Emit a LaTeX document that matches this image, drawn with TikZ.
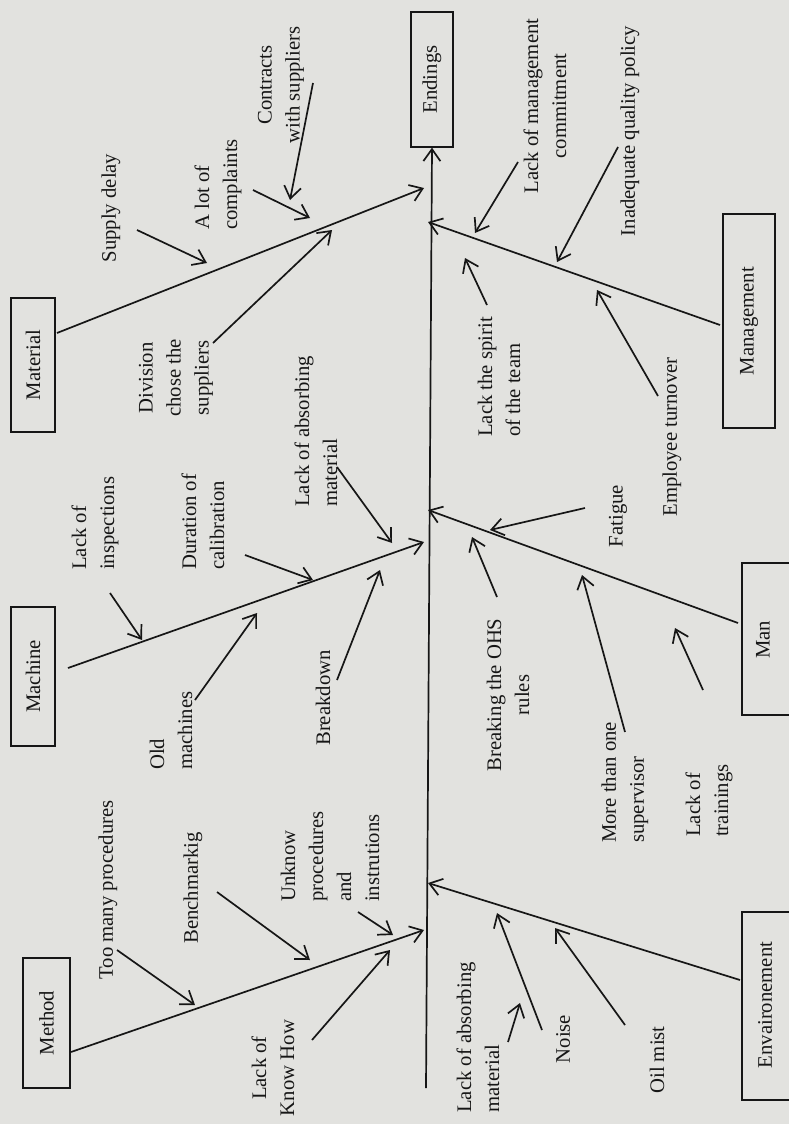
\documentclass[tikz,border=0pt]{standalone}
\usepackage{fontspec}
\setmainfont{Liberation Serif}
\usetikzlibrary{arrows.meta}
\definecolor{paper}{RGB}{226,226,223}
\definecolor{ink}{RGB}{22,22,22}
\begin{document}
\begin{tikzpicture}[x=1pt,y=-1pt,
  lbl/.style={rotate=90, font=\fontsize{20.7}{28}\selectfont, inner sep=0pt, text=ink},
  boxnode/.style={draw=ink, line width=1.3pt, inner sep=0pt},
  arrowline/.style={draw=ink, line width=1.7pt, -{Straight Barb[length=12pt,width=17pt,line width=1.7pt]}},
  plainline/.style={draw=ink, line width=1.7pt}]
\fill[paper] (0,0) rectangle (789,1124);
\useasboundingbox (0,0) rectangle (789,1124);

% boxes
\node[boxnode, minimum width=42pt, minimum height=135pt] (endbox) at (432,79.5) {};
\node[lbl] (endlbl) at (endbox) {Endings};
\node[boxnode, minimum width=44pt, minimum height=134pt] (matbox) at (33,365) {};
\node[lbl] (matlbl) at (matbox) {Material};
\node[boxnode, minimum width=44pt, minimum height=139pt] (macbox) at (33,676.5) {};
\node[lbl] (maclbl) at (macbox) {Machine};
\node[boxnode, minimum width=47pt, minimum height=130pt] (metbox) at (46.5,1023) {};
\node[lbl] (metlbl) at (metbox) {Method};
\node[boxnode, minimum width=52pt, minimum height=214pt] (mgtbox) at (749,321) {};
\node[lbl] (mgtlbl) at (mgtbox) {Management};
\node[boxnode, minimum width=52pt, minimum height=152pt] (manbox) at (768,639) {};
\node[lbl] (manlbl) at (763,640) {Man};
\node[boxnode, minimum width=52pt, minimum height=188pt] (envbox) at (768,1006) {};
\node[lbl] (envlbl) at (765,1005) {Envaironement};

% spine
\coordinate (spinebot) at (426,1088);
\draw[arrowline] (spinebot) -- (endbox.south);

% main branches
\coordinate (matS) at (57,333);   \coordinate (matE) at (424,188);
\coordinate (macS) at (68,668);   \coordinate (macE) at (424,542);
\coordinate (metS) at (71,1052);  \coordinate (metE) at (424,930);
\coordinate (mgtS) at (720,325);  \coordinate (mgtE) at (428,222);
\coordinate (manS) at (738,623);  \coordinate (manE) at (428,510);
\coordinate (envS) at (740,980);  \coordinate (envE) at (428,883);
\draw[arrowline] (matS) -- (matE);
\draw[arrowline] (macS) -- (macE);
\draw[arrowline] (metS) -- (metE);
\draw[arrowline] (mgtS) -- (mgtE);
\draw[arrowline] (manS) -- (manE);
\draw[arrowline] (envS) -- (envE);

% labels
\node[lbl] (supply) at (111,208) {Supply delay};
\node[lbl, align=left, anchor=west] (compl) at (218,230) {A lot of\\complaints};
\node[lbl, align=center] (contr) at (281,85) {Contracts\\with suppliers};
\node[lbl, align=center] (divis) at (176,378) {Division\\chose the\\suppliers};
\node[lbl, align=left, anchor=west] (insp) at (95,570) {Lack of\\inspections};
\node[lbl, align=left, anchor=west] (calib) at (203,570) {Duration of\\calibration};
\node[lbl, align=left, anchor=west] (absorbA) at (316,507) {Lack of absorbing\\material};
\node[lbl, align=left, anchor=west] (oldm) at (171,770) {Old\\machines};
\node[lbl] (brk) at (323,698) {Breakdown};
\node[lbl] (toomany) at (108,890) {Too many procedures};
\node[lbl] (bench) at (193,888) {Benchmarkig};
\node[lbl, align=left, anchor=west] (unk) at (330,902) {Unknow\\procedures\\and\\instrutions};
\node[lbl, align=center] (know) at (273,1068) {Lack of\\Know How};
\node[lbl, align=center] (commit) at (545,106) {Lack of management\\commitment};
\node[lbl] (inadq) at (630,131) {Inadequate quality policy};
\node[lbl] (empl) at (672,437) {Employee turnover};
\node[lbl, align=left, anchor=west] (spirit) at (499,437) {Lack the spirit\\of the team};
\node[lbl] (fat) at (618,516) {Fatigue};
\node[lbl, align=center] (ohs) at (508,695) {Breaking the OHS\\rules};
\node[lbl, align=left, anchor=west] (super) at (625,843) {More than one\\supervisor};
\node[lbl, align=left, anchor=west] (train) at (709,837) {Lack of\\trainings};
\node[lbl, align=left, anchor=west] (absorbB) at (478,1113) {Lack of absorbing\\material};
\node[lbl] (noise) at (563,1039) {Noise};
\node[lbl] (oil) at (657,1060) {Oil mist};

% cause arrows: material
\coordinate (a1s) at (137,230); \coordinate (a1e) at (207,263);
\coordinate (a2s) at (253,190); \coordinate (a2e) at (310,218);
\coordinate (a3s) at (313,83);  \coordinate (a3e) at (290,200);
\coordinate (a4s) at (213,343); \coordinate (a4e) at (332,230);
% machine
\coordinate (b1s) at (110,593); \coordinate (b1e) at (142,640);
\coordinate (b2s) at (245,555); \coordinate (b2e) at (313,580);
\coordinate (b3s) at (337,467); \coordinate (b3e) at (392,543);
\coordinate (b4s) at (195,700); \coordinate (b4e) at (257,613);
\coordinate (b5s) at (337,680); \coordinate (b5e) at (380,570);
% method
\coordinate (c1s) at (117,950); \coordinate (c1e) at (195,1005);
\coordinate (c2s) at (217,892); \coordinate (c2e) at (310,960);
\coordinate (c3s) at (358,912); \coordinate (c3e) at (393,935);
\coordinate (c4s) at (312,1040); \coordinate (c4e) at (390,950);
% management
\coordinate (d1s) at (518,162); \coordinate (d1e) at (475,233);
\coordinate (d2s) at (618,147); \coordinate (d2e) at (557,262);
\coordinate (d3s) at (658,396); \coordinate (d3e) at (597,290);
\coordinate (d4s) at (487,305); \coordinate (d4e) at (465,258);
% man
\coordinate (e1s) at (585,508); \coordinate (e1e) at (490,530);
\coordinate (e2s) at (497,597); \coordinate (e2e) at (472,537);
\coordinate (e3s) at (625,732); \coordinate (e3e) at (582,575);
\coordinate (e4s) at (703,690); \coordinate (e4e) at (675,628);
% environment
\coordinate (f1s) at (508,1042); \coordinate (f1e) at (520,1003);
\coordinate (f2s) at (542,1030); \coordinate (f2e) at (497,913);
\coordinate (f3s) at (625,1025); \coordinate (f3e) at (555,928);

\foreach \p in {a1,a2,a3,a4,b1,b2,b3,b4,b5,c1,c2,c3,c4,d1,d2,d3,d4,e1,e2,e3,e4,f1,f2,f3}
  \draw[arrowline] (\p s) -- (\p e);
\end{tikzpicture}
\end{document}
